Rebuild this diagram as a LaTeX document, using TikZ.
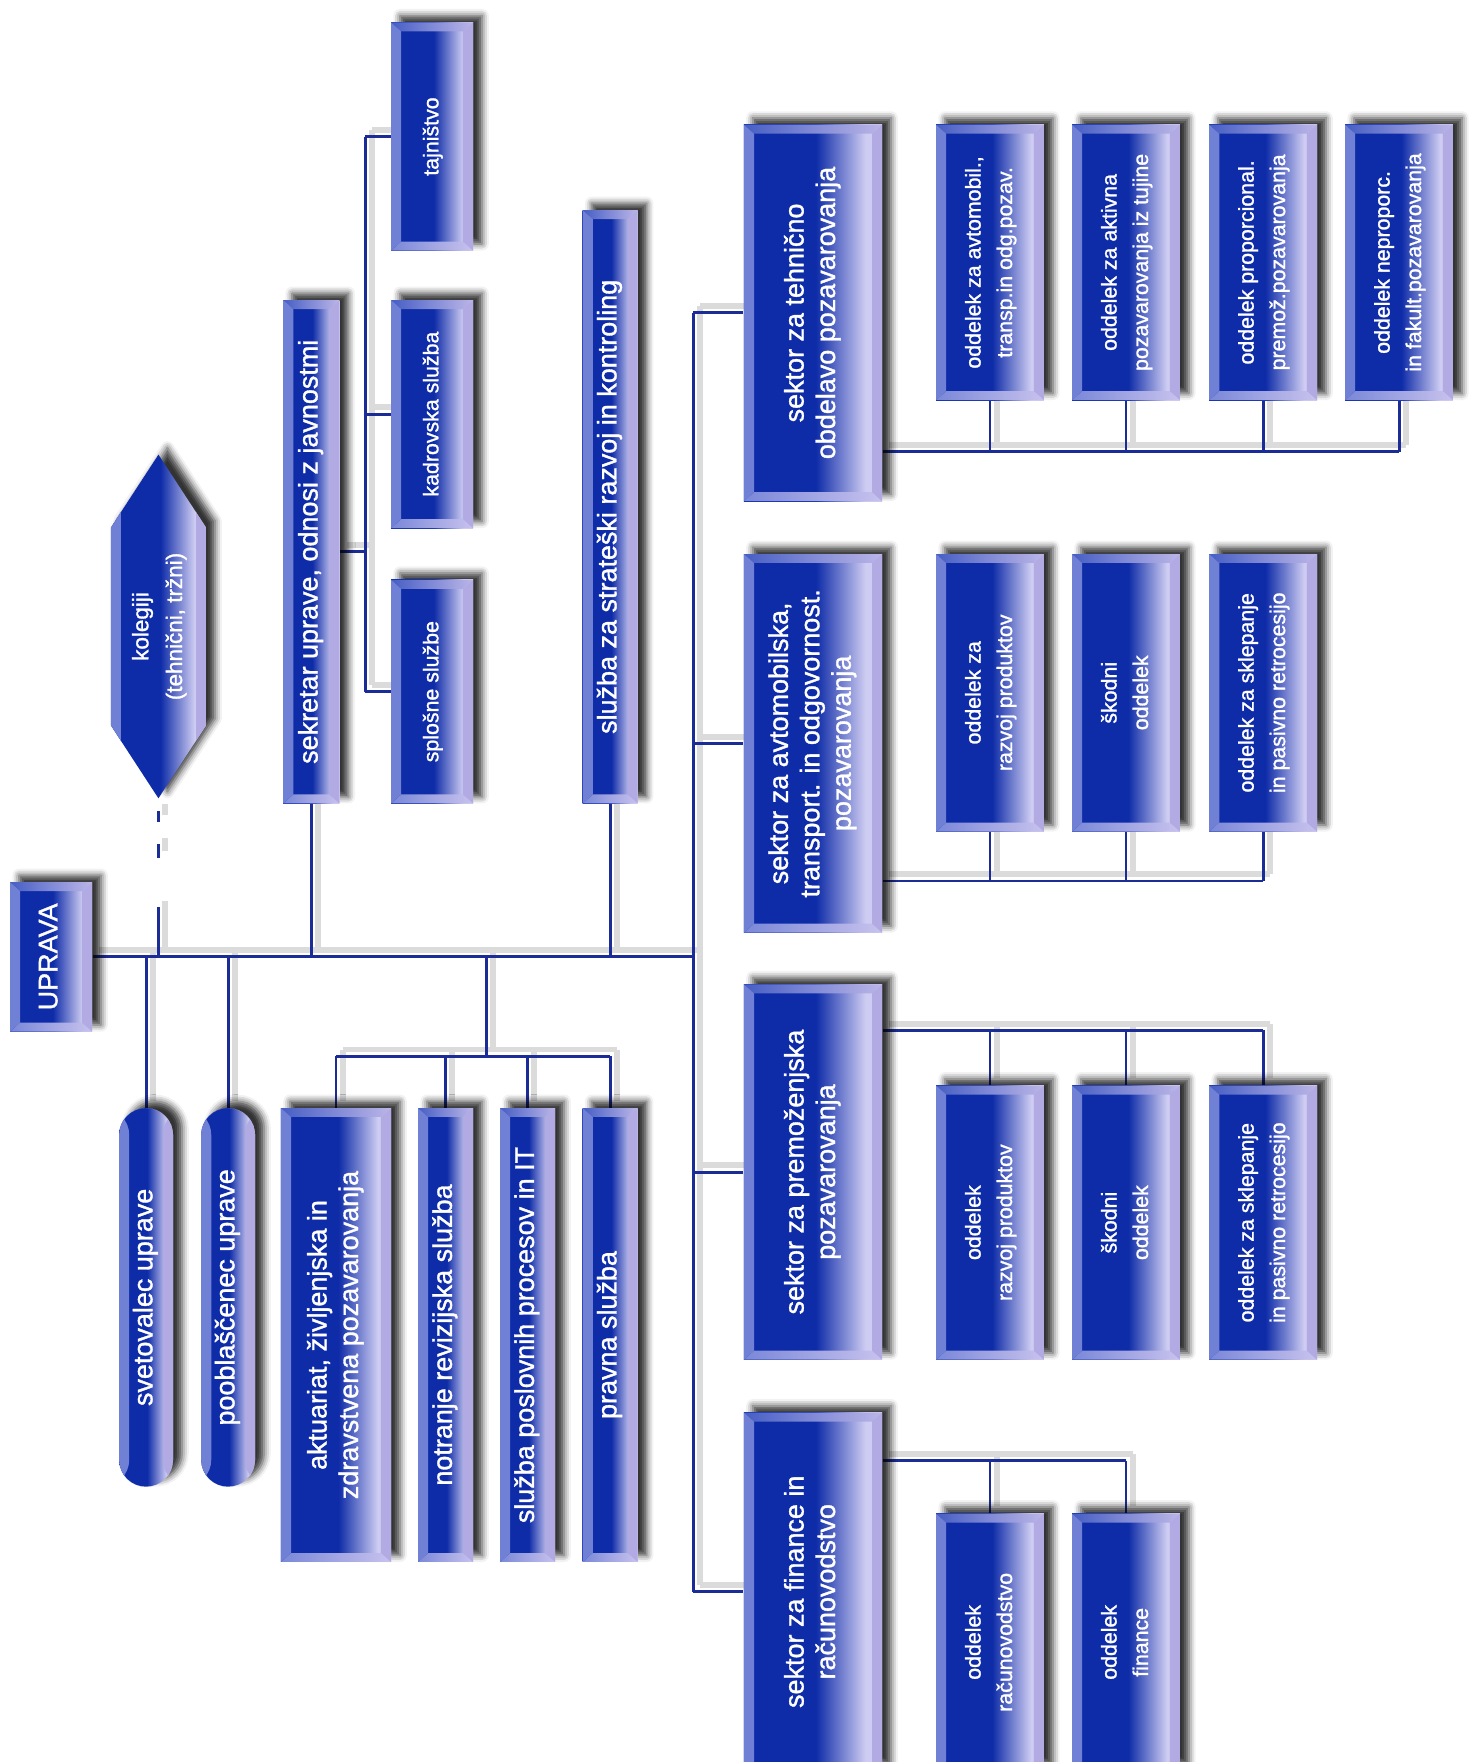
\documentclass[tikz,border=0pt]{standalone}
\usepackage{fontspec}
\setmainfont{Liberation Sans}[FakeBold=1.2]
\usepackage{graphicx}
\usetikzlibrary{calc,shadows.blur}
\definecolor{fdark}{RGB}{14,44,168}
\definecolor{flight}{RGB}{206,204,242}
\definecolor{bvleft}{RGB}{112,128,212}
\definecolor{bvright}{RGB}{178,170,226}
\definecolor{bvtopL}{RGB}{70,94,196}
\definecolor{bvtopR}{RGB}{188,182,232}
\definecolor{bvbotL}{RGB}{122,136,216}
\definecolor{bvbotR}{RGB}{200,194,238}
\definecolor{lnblue}{RGB}{28,44,150}
\pgfdeclarehorizontalshading{bevface}{100bp}{color(0bp)=(fdark); color(25bp)=(fdark); color(51bp)=(fdark); color(69bp)=(flight); color(100bp)=(flight)}
\pgfdeclarelayer{bg}
\pgfsetlayers{bg,main}
\newcommand\rtext[1]{\rotatebox{90}{\begin{tabular}{@{}c@{}}#1\end{tabular}}}
\tikzset{
  shadowed/.style={blur shadow={shadow xshift=4pt, shadow yshift=3pt, shadow blur radius=3pt, shadow opacity=80}},
  boxbase/.style={rectangle, inner sep=0pt, text=white, shade, shading=bevface, shadowed},
  bevelled/.style={path picture={
     \coordinate (bvSW) at (path picture bounding box.south west);
     \coordinate (bvNE) at (path picture bounding box.north east);
     \coordinate (bvNW) at (bvSW|-bvNE);
     \coordinate (bvSE) at (bvSW-|bvNE);
     \coordinate (ivSW) at ($(bvSW)+(4.5pt,4pt)$);
     \coordinate (ivNE) at ($(bvNE)+(-4.5pt,-4pt)$);
     \coordinate (ivNW) at (ivSW|-ivNE);
     \coordinate (ivSE) at (ivSW-|ivNE);
     \shade[left color=bvtopL, right color=bvtopR] (bvNW)--(bvNE)--(ivNE)--(ivNW)--cycle;
     \shade[left color=bvbotL, right color=bvbotR] (bvSW)--(bvSE)--(ivSE)--(ivSW)--cycle;
     \fill[bvleft] (bvSW)--(bvNW)--(ivNW)--(ivSW)--cycle;
     \fill[bvright] (bvSE)--(bvNE)--(ivNE)--(ivSE)--cycle;
  }},
  sidebevel/.style={path picture={
     \coordinate (bvSW) at (path picture bounding box.south west);
     \coordinate (bvNE) at (path picture bounding box.north east);
     \fill[bvleft] (bvSW) rectangle ($(bvSW|-bvNE)+(4.5pt,0)$);
     \fill[bvright] ($(bvSW-|bvNE)+(-4.5pt,0)$) rectangle (bvNE);
  }},
  bigfont/.style={font=\fontsize{12}{14}\selectfont},
  smallfont/.style={font=\fontsize{9.5}{14}\selectfont},
  sect/.style={boxbase, bevelled, bigfont, minimum width=61.5pt},
  child/.style={boxbase, bevelled, smallfont, minimum width=48pt},
  subchild/.style={boxbase, bevelled, smallfont, minimum width=36.5pt},
  narrow/.style={boxbase, bevelled, bigfont, minimum width=24.5pt},
  pill/.style={boxbase, sidebevel, bigfont, rounded corners=12pt, minimum width=24pt},
  hexshape/.style={shade, shading=bevface, shadowed, sidebevel},
  conn/.style={draw=lnblue, line width=1.3pt},
  lineshadow/.style={draw=black!14, line width=2.6pt},
  dashconn/.style={dash pattern=on 22pt off 22pt on 6pt off 10pt on 5pt off 30pt},
}
\newcommand\drawconnectors[1]{%
  \draw[#1] (upr.east) -- (upr.east -| sp);
  \draw[#1] (tehn.west -| sp) -- (fin.west -| sp);
  \draw[#1] (tehn.west -| sp) -- (tehn.west);
  \draw[#1] (avto.west -| sp) -- (avto.west);
  \draw[#1] (prem.west -| sp) -- (prem.west);
  \draw[#1] (fin.west -| sp) -- (fin.west);
  \draw[#1, dashconn] (kol.south |- upr.east) -- (kol.south);
  \draw[#1] (sek.south) -- (sek.south |- upr.east);
  \draw[#1] (strat.south) -- (strat.south |- upr.east);
  \draw[#1] (sek.east) -- (sek.east -| br);
  \draw[#1] (taj.west -| br) -- (splo.west -| br);
  \draw[#1] (taj.west -| br) -- (taj.west);
  \draw[#1] (kadr.west -| br) -- (kadr.west);
  \draw[#1] (splo.west -| br) -- (splo.west);
  \draw[#1] (svet.north |- upr.east) -- (svet.north);
  \draw[#1] (poob.north |- upr.east) -- (poob.north);
  \draw[#1] (sb |- upr.east) -- (sb);
  \draw[#1] (akt.north |- sb) -- (prav.north |- sb);
  \draw[#1] (akt.north |- sb) -- (akt.north);
  \draw[#1] (notr.north |- sb) -- (notr.north);
  \draw[#1] (spp.north |- sb) -- (spp.north);
  \draw[#1] (prav.north |- sb) -- (prav.north);
  \draw[#1] (tehn.east |- tb) -- (t4.south |- tb);
  \draw[#1] (t1.south) -- (t1.south |- tb);
  \draw[#1] (t2.south) -- (t2.south |- tb);
  \draw[#1] (t3.south) -- (t3.south |- tb);
  \draw[#1] (t4.south) -- (t4.south |- tb);
  \draw[#1] (avto.east |- ab) -- (a3.south |- ab);
  \draw[#1] (a1.south) -- (a1.south |- ab);
  \draw[#1] (a2.south) -- (a2.south |- ab);
  \draw[#1] (a3.south) -- (a3.south |- ab);
  \draw[#1] (prem.east |- pb) -- (p3.north |- pb);
  \draw[#1] (p1.north) -- (p1.north |- pb);
  \draw[#1] (p2.north) -- (p2.north |- pb);
  \draw[#1] (p3.north) -- (p3.north |- pb);
  \draw[#1] (fin.east |- fb) -- (f2.north |- fb);
  \draw[#1] (f1.north) -- (f1.north |- fb);
  \draw[#1] (f2.north) -- (f2.north |- fb);
}
\begin{document}
\begin{tikzpicture}[x=0.5pt, y=-0.5pt]
\useasboundingbox (0,0) rectangle (1308,1568);
% helper coordinates
\coordinate (sp) at (617,0);
\coordinate (br) at (325,0);
\coordinate (sb) at (433,940);
\coordinate (tb) at (0,402);
\coordinate (ab) at (0,784);
\coordinate (pb) at (0,917);
\coordinate (fb) at (0,1300);
% top
\node[boxbase, bevelled, bigfont, minimum width=36.5pt, minimum height=66.5pt] (upr) at (45.5,851.5) {\rtext{UPRAVA}};
\node[minimum width=42pt, minimum height=152.5pt, inner sep=0pt] (kol) at (141,557.5) {};
\path[hexshape] (kol.north) -- ([yshift=-32.5pt]kol.north east) -- ([yshift=32.5pt]kol.south east) -- (kol.south) -- ([yshift=32.5pt]kol.south west) -- ([yshift=-32.5pt]kol.north west) -- cycle;
\node[text=white, font=\fontsize{10}{15}\selectfont] (kolT) at (kol.center) {\rtext{kolegiji\\(tehnični, tržni)}};
\node[narrow, minimum width=25pt, minimum height=224pt] (sek) at (277,491) {\rtext{sekretar uprave, odnosi z javnostmi}};
\node[subchild, minimum height=101.5pt] (taj) at (384.5,121.5) {\rtext{tajništvo}};
\node[subchild, minimum height=101.5pt] (kadr) at (384.5,368.5) {\rtext{kadrovska služba}};
\node[subchild, minimum height=99.5pt] (splo) at (384.5,615.5) {\rtext{splošne službe}};
\node[narrow, minimum height=264pt] (strat) at (543,451) {\rtext{služba za strateški razvoj in kontroling}};
% sectors
\node[sect, minimum height=167.5pt] (tehn) at (723.5,278.5) {\rtext{sektor za tehnično\\obdelavo pozavarovanja}};
\node[sect, minimum height=168.5pt] (avto) at (723.5,661.5) {\rtext{sektor za avtomobilska,\\transport. in odgovornost.\\pozavarovanja}};
\node[sect, minimum height=167pt] (prem) at (723.5,1043) {\rtext{sektor za premoženjska\\pozavarovanja}};
\node[sect, minimum height=159.5pt] (fin) at (723.5,1416.5) {\rtext{sektor za finance in\\računovodstvo}};
% tehnicno children
\node[child, minimum height=122.5pt] (t1) at (881,233.5) {\rtext{oddelek za avtomobil.,\\transp.in odg.pozav.}};
\node[child, minimum height=122.5pt] (t2) at (1002,233.5) {\rtext{oddelek za aktivna\\pozavarovanja iz tujine}};
\node[child, minimum height=122.5pt] (t3) at (1124,233.5) {\rtext{oddelek proporcional.\\premož.pozavarovanja}};
\node[child, minimum height=122.5pt] (t4) at (1245,233.5) {\rtext{oddelek neproporc.\\in fakult.pozavarovanja}};
% avto children
\node[child, minimum height=123.5pt] (a1) at (881,616.5) {\rtext{oddelek za\\razvoj produktov}};
\node[child, minimum height=123.5pt] (a2) at (1002,616.5) {\rtext{škodni\\oddelek}};
\node[child, minimum height=123.5pt] (a3) at (1124,616.5) {\rtext{oddelek za sklepanje\\in pasivno retrocesijo}};
% prem children
\node[child, minimum height=122pt] (p1) at (881,1088) {\rtext{oddelek\\razvoj produktov}};
\node[child, minimum height=122pt] (p2) at (1002,1088) {\rtext{škodni\\oddelek}};
\node[child, minimum height=122pt] (p3) at (1124,1088) {\rtext{oddelek za sklepanje\\in pasivno retrocesijo}};
% fin children
\node[child, minimum height=114.5pt] (f1) at (881,1461.5) {\rtext{oddelek\\računovodstvo}};
\node[child, minimum height=114.5pt] (f2) at (1002,1461.5) {\rtext{oddelek\\finance}};
% bottom-left
\node[pill, minimum height=168.5pt] (svet) at (130,1154.5) {\rtext{svetovalec uprave}};
\node[pill, minimum height=168.5pt] (poob) at (203,1154.5) {\rtext{pooblaščenec uprave}};
\node[boxbase, bevelled, bigfont, minimum width=49pt, minimum height=202pt] (akt) at (299,1188) {\rtext{aktuariat, življenjska in\\zdravstvena pozavarovanja}};
\node[narrow, minimum height=202pt] (notr) at (396.5,1188) {\rtext{notranje revizijska služba}};
\node[narrow, minimum height=202pt] (spp) at (469.5,1188) {\rtext{služba poslovnih procesov in IT}};
\node[narrow, minimum height=202pt] (prav) at (543,1188) {\rtext{pravna služba}};
% connectors
\begin{pgfonlayer}{bg}
  \begin{scope}[transform canvas={xshift=3pt, yshift=3pt}]
    \drawconnectors{lineshadow}
  \end{scope}
  \drawconnectors{conn}
\end{pgfonlayer}
\end{tikzpicture}
\end{document}
